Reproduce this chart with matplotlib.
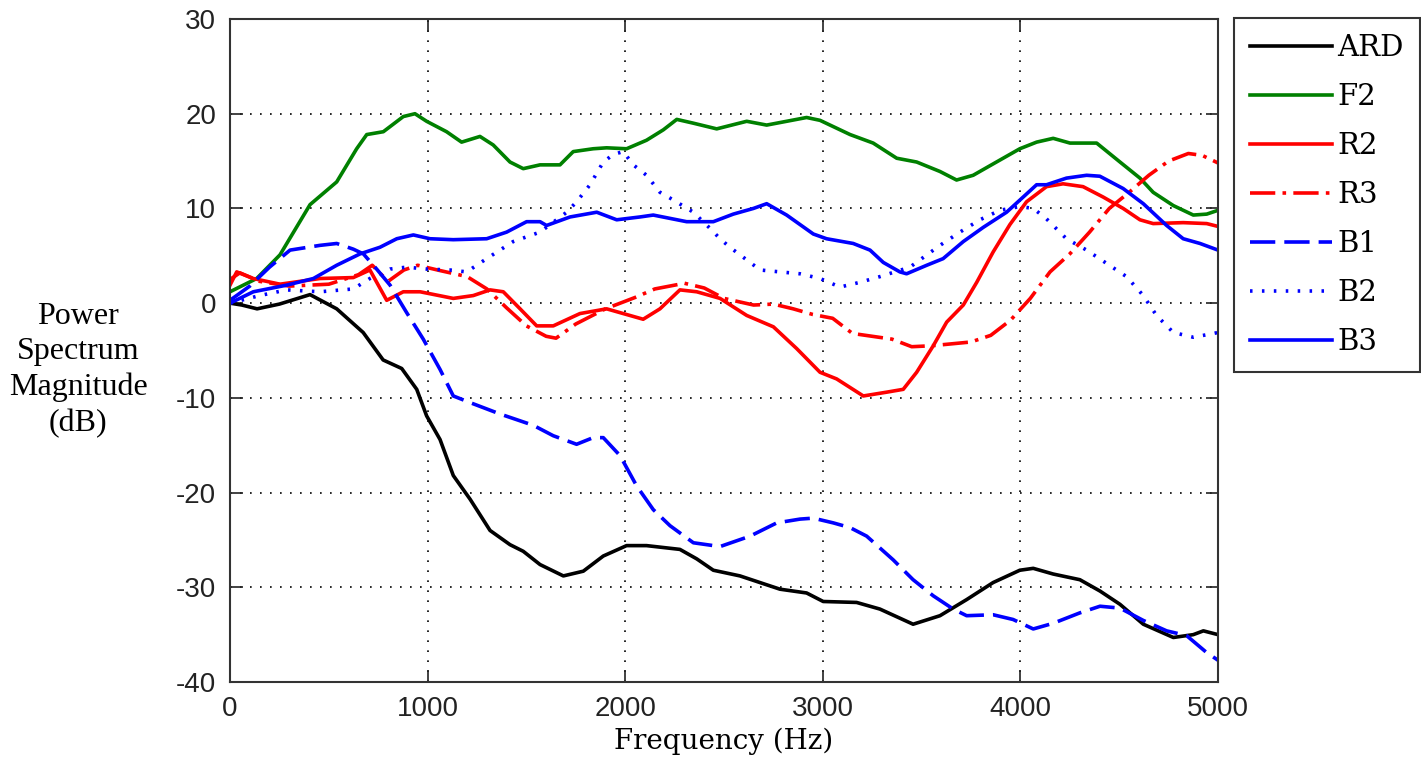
import numpy as np
import matplotlib
matplotlib.use("Agg")
import matplotlib.pyplot as plt

plt.rcParams["axes.unicode_minus"] = False

# ---------------------------
# Data
# ---------------------------
ard_f = [0, 60, 137, 250, 405, 540, 674, 775, 869, 945, 995, 1063, 1130, 1215, 1316, 1417, 1484,
         1569, 1687, 1788, 1889, 2007, 2108, 2277, 2362, 2446, 2581, 2783, 2918, 3002, 3171, 3289,
         3457, 3593, 3728, 3862, 3997, 4065, 4166, 4301, 4403, 4504, 4622, 4774, 4875, 4926, 5000]
ard_v = [0.0, -0.2, -0.6, -0.1, 0.9, -0.6, -3.1, -6.0, -6.9, -9.1, -11.9, -14.4, -18.2, -20.7,
         -24.0, -25.5, -26.2, -27.6, -28.8, -28.3, -26.7, -25.6, -25.6, -26.0, -27.0, -28.2, -28.8,
         -30.2, -30.6, -31.5, -31.6, -32.3, -33.9, -33.0, -31.3, -29.5, -28.2, -28.0, -28.6, -29.2,
         -30.4, -31.8, -33.9, -35.3, -35.0, -34.6, -35.0]

f2_f = [0, 135, 253, 405, 540, 641, 692, 776, 877, 936, 995, 1096, 1172, 1265, 1332, 1417, 1484,
        1569, 1670, 1737, 1838, 1906, 2007, 2108, 2193, 2261, 2345, 2463, 2615, 2716, 2817, 2918,
        2986, 3138, 3255, 3374, 3475, 3593, 3677, 3761, 3862, 3997, 4082, 4166, 4251, 4386, 4504,
        4605, 4672, 4774, 4875, 4943, 5000]
f2_v = [1.2, 2.6, 5.1, 10.4, 12.8, 16.3, 17.8, 18.1, 19.7, 20.0, 19.2, 18.1, 17.0, 17.6, 16.7,
        14.9, 14.2, 14.6, 14.6, 16.0, 16.3, 16.4, 16.3, 17.2, 18.3, 19.4, 19.0, 18.4, 19.2, 18.8,
        19.2, 19.6, 19.3, 17.8, 16.9, 15.3, 14.9, 13.9, 13.0, 13.5, 14.7, 16.3, 17.0, 17.4, 16.9,
        16.9, 14.9, 13.2, 11.7, 10.3, 9.3, 9.4, 9.8]

r2_f = [0, 34, 118, 253, 455, 624, 708, 793, 877, 962, 1130, 1231, 1316, 1383, 1468, 1552, 1636,
        1771, 1906, 1990, 2091, 2176, 2277, 2362, 2480, 2615, 2750, 2868, 2986, 3070, 3205, 3323,
        3407, 3475, 3559, 3627, 3711, 3779, 3862, 3947, 4031, 4132, 4216, 4317, 4419, 4520, 4605,
        4672, 4824, 4943, 5000]
r2_v = [1.9, 3.3, 2.6, 2.0, 2.6, 2.7, 3.5, 0.3, 1.2, 1.2, 0.5, 0.8, 1.4, 1.2, -0.6, -2.4, -2.4,
        -1.1, -0.6, -1.1, -1.7, -0.6, 1.4, 1.2, 0.5, -1.3, -2.5, -4.8, -7.3, -8.0, -9.8, -9.4,
        -9.1, -7.3, -4.5, -2.0, -0.2, 2.2, 5.4, 8.3, 10.7, 12.3, 12.6, 12.3, 11.2, 10.0, 8.8,
        8.4, 8.5, 8.4, 8.1]

r3_f = [0, 50, 150, 300, 500, 650, 720, 800, 880, 950, 1050, 1200, 1300, 1400, 1500, 1600, 1650,
        1750, 1900, 2050, 2150, 2300, 2400, 2500, 2650, 2750, 2850, 2950, 3050, 3150, 3250, 3350,
        3450, 3550, 3650, 3750, 3850, 3950, 4050, 4150, 4250, 4350, 4450, 4550, 4650, 4750, 4850,
        4920, 5000]
r3_v = [2.5, 3.2, 2.3, 1.8, 2.0, 3.0, 4.0, 2.3, 3.5, 4.0, 3.5, 2.8, 1.5, -0.5, -2.4, -3.5, -3.7,
        -2.2, -0.6, 0.6, 1.5, 2.1, 1.6, 0.5, -0.2, -0.1, -0.6, -1.2, -1.6, -3.2, -3.5, -3.8,
        -4.6, -4.5, -4.3, -4.1, -3.4, -1.8, 0.5, 3.3, 5.2, 7.5, 10.0, 11.7, 13.5, 15.0, 15.8,
        15.6, 14.8]

b1_f = [0, 100, 200, 304, 455, 540, 624, 675, 742, 810, 894, 978, 1063, 1130, 1215, 1366, 1535,
        1636, 1754, 1838, 1889, 1974, 2058, 2142, 2227, 2345, 2480, 2632, 2767, 2885, 2952, 3053,
        3138, 3222, 3356, 3457, 3559, 3660, 3728, 3862, 3963, 4065, 4166, 4301, 4403, 4504, 4622,
        4740, 4841, 4943, 5000]
b1_v = [0.3, 1.8, 3.8, 5.6, 6.1, 6.3, 5.7, 5.2, 3.6, 1.9, -1.0, -3.8, -7.0, -9.8, -10.5, -11.7,
        -12.9, -14.0, -14.9, -14.2, -14.2, -16.1, -19.3, -21.8, -23.5, -25.3, -25.7, -24.6,
        -23.2, -22.8, -22.7, -23.2, -23.7, -24.6, -27.1, -29.2, -30.9, -32.3, -33.0, -32.9,
        -33.4, -34.4, -33.8, -32.7, -32.0, -32.2, -33.5, -34.6, -35.1, -36.9, -37.7]

b2_f = [0, 150, 287, 455, 624, 708, 810, 894, 995, 1113, 1198, 1299, 1433, 1569, 1704, 1754, 1822,
        1889, 1940, 1990, 2041, 2108, 2176, 2243, 2345, 2429, 2480, 2530, 2581, 2683, 2783, 2885,
        2986, 3087, 3188, 3289, 3441, 3593, 3694, 3795, 3896, 3997, 4065, 4132, 4233, 4335, 4436,
        4537, 4622, 4689, 4774, 4875, 4977, 5000]
b2_v = [0.0, 0.8, 1.4, 1.2, 1.5, 2.6, 3.6, 3.8, 3.6, 3.5, 3.3, 4.7, 6.5, 7.5, 9.6, 10.7, 12.5,
        14.9, 15.7, 16.0, 14.6, 13.5, 11.7, 10.9, 9.6, 7.9, 6.8, 5.9, 5.1, 3.5, 3.3, 3.1, 2.6,
        1.7, 2.2, 2.8, 3.8, 6.1, 7.5, 8.8, 9.8, 10.2, 10.0, 8.9, 6.8, 5.6, 4.2, 2.8, 0.8, -1.3,
        -3.1, -3.6, -3.2, -3.1]

b3_f = [0, 118, 287, 422, 540, 658, 759, 844, 928, 1012, 1130, 1299, 1400, 1501, 1569, 1602, 1721,
        1856, 1957, 2075, 2142, 2311, 2446, 2547, 2649, 2716, 2817, 2952, 3019, 3154, 3239, 3306,
        3390, 3424, 3526, 3609, 3711, 3812, 3930, 4014, 4082, 4132, 4233, 4335, 4402, 4520, 4622,
        4740, 4824, 4909, 5000]
b3_v = [0.0, 1.2, 1.9, 2.6, 4.0, 5.2, 5.9, 6.8, 7.2, 6.8, 6.7, 6.8, 7.5, 8.6, 8.6, 8.2, 9.1, 9.6,
        8.8, 9.1, 9.3, 8.6, 8.6, 9.4, 10.0, 10.5, 9.3, 7.3, 6.8, 6.3, 5.6, 4.3, 3.3, 3.1, 4.0,
        4.7, 6.5, 8.0, 9.6, 11.2, 12.5, 12.5, 13.2, 13.5, 13.4, 12.1, 10.5, 8.2, 6.8, 6.3, 5.6]

x_ticks = [0, 1000, 2000, 3000, 4000, 5000]
y_ticks = [-40, -30, -20, -10, 0, 10, 20, 30]

# ---------------------------
# Figure
# ---------------------------
fig = plt.figure(figsize=(14.21, 7.69), dpi=100)
ax = fig.add_axes([230 / 1421, 1 - 682 / 769, (1218 - 230) / 1421, (682 - 19) / 769])

lw = 2.6
ax.plot(ard_f, ard_v, color="black", lw=lw, label="ARD")
ax.plot(f2_f, f2_v, color="#008000", lw=lw, label="F2")
ax.plot(r2_f, r2_v, color="#ff0000", lw=lw, label="R2")
ax.plot(r3_f, r3_v, color="#ff0000", lw=lw, dashes=(7, 2, 1, 2), label="R3")
ax.plot(b1_f, b1_v, color="#0000ff", lw=lw, dashes=(7, 2.5), label="B1")
ax.plot(b2_f, b2_v, color="#0000ff", lw=lw, dashes=(0.7, 2.6), label="B2")
ax.plot(b3_f, b3_v, color="#0000ff", lw=lw, label="B3")

ax.set_xlim(0, 5000)
ax.set_ylim(-40, 30)
ax.set_xticks(x_ticks)
ax.set_yticks(y_ticks)
ax.grid(True, color="black", linestyle=(0, (1, 5)), lw=1.2)
ax.tick_params(direction="in", length=9, width=1.2, top=True, right=True,
               labelsize=20, pad=10, colors="#222222")
for lab in ax.get_xticklabels() + ax.get_yticklabels():
    lab.set_fontfamily("Liberation Sans")
for s in ax.spines.values():
    s.set_linewidth(1.5)
    s.set_color("#333333")

ax.set_xlabel("Frequency (Hz)", fontfamily="DejaVu Serif", fontsize=20, labelpad=4)
fig.text(78 / 1421, 1 - 370 / 769, "Power\nSpectrum\nMagnitude\n(dB)", ha="center", va="center",
         multialignment="center", fontfamily="Liberation Serif", fontsize=23, linespacing=1.28)

leg = ax.legend(loc="upper left", bbox_to_anchor=(1234 / 1421, 1 - 18 / 769),
                bbox_transform=fig.transFigure, prop={"family": "DejaVu Serif", "size": 21},
                handlelength=2.8, labelspacing=0.72, handletextpad=0.2, borderpad=0.55,
                fancybox=False, framealpha=1, edgecolor="#333333", borderaxespad=0)
leg.get_frame().set_linewidth(1.5)

plt.savefig("out.png", dpi=100)
